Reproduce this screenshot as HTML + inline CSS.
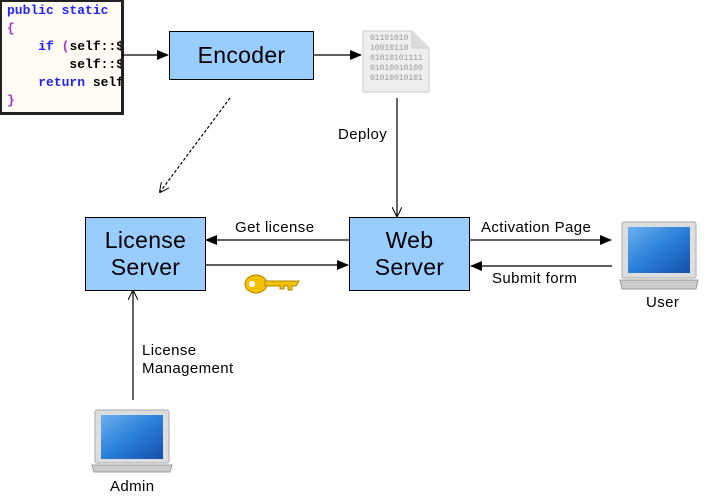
<!DOCTYPE html>
<html><head><style>
body{margin:0;width:719px;height:501px;background:#fff;position:relative;overflow:hidden;font-family:"Liberation Sans",sans-serif}
.box{position:absolute;background:#99ccff;border:1.5px solid #000;box-sizing:border-box;display:flex;align-items:center;justify-content:center;text-align:center;font-size:23px;line-height:27px;letter-spacing:0.3px}
.t{position:absolute;font-size:15px;color:#000;white-space:nowrap;letter-spacing:0.4px}
.code{position:absolute;left:0;top:0;width:124px;height:115px;background:#fffcf5;border:2px solid #222;border-right-width:3px;border-bottom-width:3px;box-sizing:border-box;font-family:"Liberation Mono",monospace;font-size:13px;font-weight:bold;line-height:18px;overflow:hidden;padding:0 0 0 5px;white-space:pre}
</style></head><body>
<div class="code"><span style="color:#22f">public static </span>
<span style="color:#a3c">{</span>
<span>    <span style="color:#22f">if</span> <span style="color:#a3c">(</span>self::$</span>
        self::$
<span>    <span style="color:#22f">return</span> self</span>
<span style="color:#a3c">}</span></div>
<div class="box" style="left:169px;top:31px;width:145px;height:49px">Encoder</div>
<div class="box" style="left:85px;top:217px;width:121px;height:74px">License<br>Server</div>
<div class="box" style="left:349px;top:217px;width:121px;height:74px">Web<br>Server</div>
<svg width="719" height="501" style="position:absolute;left:0;top:0">
<defs><marker id="a" markerWidth="12" markerHeight="10" refX="11" refY="5" orient="auto" markerUnits="userSpaceOnUse"><path d="M0,0L12,5L0,10z" fill="#000"/></marker>
<marker id="b" markerWidth="10" markerHeight="10" refX="9" refY="5" orient="auto" markerUnits="userSpaceOnUse"><path d="M0,0L10,5L0,10" fill="none" stroke="#000"/></marker>
<linearGradient id="s" x1="0" y1="0" x2="1" y2="1"><stop offset="0" stop-color="#6ab0f0"/><stop offset=".5" stop-color="#2a7fd8"/><stop offset="1" stop-color="#1450a8"/></linearGradient></defs>
<g stroke="#000" stroke-width="1.2" fill="none">
<line x1="122" y1="55" x2="168" y2="55" marker-end="url(#a)"/>
<line x1="314" y1="55" x2="361" y2="55" marker-end="url(#a)"/>
<line x1="230" y1="98" x2="160" y2="192" stroke-dasharray="3,2" marker-end="url(#b)"/>
<line x1="397" y1="98" x2="397" y2="216" marker-end="url(#b)"/>
<line x1="349" y1="240" x2="206" y2="240" marker-end="url(#a)"/>
<line x1="206" y1="265" x2="348" y2="265" marker-end="url(#a)"/>
<line x1="470" y1="240" x2="611" y2="240" marker-end="url(#a)"/>
<line x1="612" y1="266" x2="471" y2="266" marker-end="url(#a)"/>
<line x1="133" y1="400" x2="133" y2="291" marker-end="url(#b)"/>
</g>
<path d="M363,31H412L429,48V92H363Z" fill="#eee" stroke="#ccc"/>
<path d="M412,31V48H429" fill="#ddd" stroke="#ccc"/>
<g font-family="Liberation Mono" font-size="8" fill="#999"><text x="370" y="40">01101010</text><text x="370" y="50">10010110</text><text x="370" y="60">01010101111</text><text x="370" y="70">01010010100</text><text x="370" y="80">01010010101</text></g>
<g fill="#f2c200" stroke="#b08800" stroke-width="1"><ellipse cx="256" cy="284" rx="11" ry="9"/><path d="M265,281H299L296,286H292V290H288V286H284V289H280V286H265Z"/></g>
<ellipse cx="252" cy="284" rx="3" ry="3" fill="#fff"/>
<g transform="translate(620,222)"><rect x="2" y="0" width="74" height="56" rx="2" fill="#ddd" stroke="#aaa"/><rect x="8" y="5" width="62" height="46" fill="url(#s)"/><path d="M0,58H78L76,67H2Z" fill="#ccc" stroke="#999"/></g>
<g transform="translate(92,410)"><rect x="3" y="0" width="74" height="53" rx="2" fill="#ddd" stroke="#aaa"/><rect x="9" y="5" width="62" height="44" fill="url(#s)"/><path d="M0,55H80L78,62H2Z" fill="#ccc" stroke="#999"/></g>
</svg>
<div class="t" style="left:338px;top:126px">Deploy</div>
<div class="t" style="left:235px;top:219px">Get license</div>
<div class="t" style="left:481px;top:219px">Activation Page</div>
<div class="t" style="left:492px;top:270px">Submit form</div>
<div class="t" style="left:646px;top:294px">User</div>
<div class="t" style="left:142px;top:342px;line-height:18px">License<br>Management</div>
<div class="t" style="left:110px;top:478px">Admin</div>
</body></html>
